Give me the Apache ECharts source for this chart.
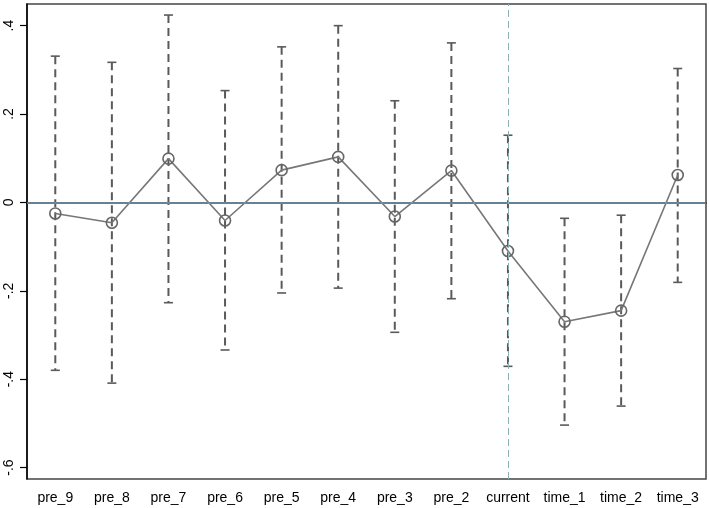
<!DOCTYPE html>
<html>
<head>
<meta charset="utf-8">
<script src="https://cdn.jsdelivr.net/npm/echarts@6/dist/echarts.min.js"></script>
<style>html,body{margin:0;padding:0;background:#fff}#c{width:709px;height:508px}</style>
</head>
<body>
<div id="c"></div>
<script>
var categories = ['pre_9','pre_8','pre_7','pre_6','pre_5','pre_4','pre_3','pre_2','current','time_1','time_2','time_3'];
var coef  = [-0.025, -0.046, 0.099, -0.041, 0.073, 0.103, -0.032, 0.072, -0.110, -0.270, -0.245, 0.062];
var upper = [0.331, 0.317, 0.424, 0.253, 0.352, 0.400, 0.230, 0.361, 0.152, -0.036, -0.029, 0.303];
var lower = [-0.380, -0.409, -0.227, -0.334, -0.205, -0.194, -0.294, -0.218, -0.371, -0.504, -0.461, -0.181];
var yTicks = [-0.6, -0.4, -0.2, 0, 0.2, 0.4];
var refCategory = 'current';

var ciData = categories.map(function (c, i) { return [i, lower[i], upper[i]]; });

var chart = echarts.init(document.getElementById('c'), null, {renderer: 'canvas'});
var FONT = '"Liberation Sans", Arial, sans-serif';
chart.setOption({
  animation: false,
  backgroundColor: '#fff',
  grid: {left: 27, right: 3, top: 4, bottom: 29, show: true, borderColor: '#444', borderWidth: 1.5, backgroundColor: 'transparent'},
  xAxis: {
    type: 'category', data: categories, boundaryGap: true,
    axisLine: {lineStyle: {color: '#000', width: 1.5}},
    axisTick: {alignWithLabel: true, interval: 0, length: 7, lineStyle: {color: '#000', width: 1.2}},
    axisLabel: {interval: 0, color: '#000', fontSize: 14, fontFamily: FONT, margin: 12}
  },
  yAxis: {
    type: 'value', min: -0.626, max: 0.449,
    splitLine: {show: false},
    axisLine: {show: true, lineStyle: {color: '#000', width: 1.5}},
    axisTick: {show: true, length: 7, customValues: yTicks, lineStyle: {color: '#000', width: 1.2}},
    axisLabel: {
      customValues: yTicks, rotate: 90, color: '#000', fontSize: 14, fontFamily: FONT, margin: 11,
      formatter: function (v) {
        if (Math.abs(v) < 1e-9) return '0';
        var s = String(Math.round(v * 10) / 10);
        return s.replace('0.', '.');
      }
    }
  },
  series: [
    {
      type: 'custom',
      data: ciData,
      encode: {x: 0, y: [1, 2]},
      z: 2,
      renderItem: function (params, api) {
        var lo = api.coord([api.value(0), api.value(1)]);
        var hi = api.coord([api.value(0), api.value(2)]);
        var hw = 4.5;
        var col = '#5a5a5a';
        return {
          type: 'group',
          children: [
            {type: 'line', shape: {x1: hi[0], y1: hi[1], x2: lo[0], y2: lo[1]},
             style: {stroke: col, lineWidth: 2, lineDash: [8, 5]}},
            {type: 'line', shape: {x1: hi[0] - hw, y1: hi[1], x2: hi[0] + hw, y2: hi[1]},
             style: {stroke: col, lineWidth: 1.6}},
            {type: 'line', shape: {x1: lo[0] - hw, y1: lo[1], x2: lo[0] + hw, y2: lo[1]},
             style: {stroke: col, lineWidth: 1.6}}
          ]
        };
      }
    },
    {
      type: 'line',
      data: coef,
      z: 3,
      symbol: 'circle',
      symbolSize: 11,
      itemStyle: {color: 'rgba(0,0,0,0)', borderColor: '#666', borderWidth: 1.6},
      lineStyle: {color: '#777', width: 1.6},
      markLine: {
        silent: true, symbol: 'none', label: {show: false},
        data: [
          {yAxis: 0, lineStyle: {color: '#7399b6', width: 1.5, type: 'solid'}},
          {xAxis: refCategory, lineStyle: {color: '#8ab2b2', width: 1, type: [7, 4]}}
        ]
      }
    }
  ]
});
</script>
</body>
</html>
